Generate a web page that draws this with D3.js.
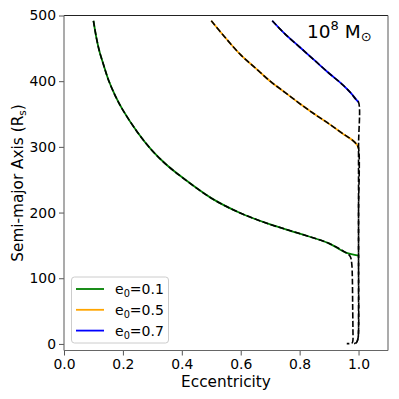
<!DOCTYPE html>
<html>
<head>
<meta charset="utf-8">
<script src="https://cdn.jsdelivr.net/npm/d3@7"></script>
<style>
  body { margin: 0; background: #fff; }
  svg text { font-family: "DejaVu Sans", sans-serif; }
</style>
</head>
<body>
<svg id="chart" width="399" height="399"></svg>
<script>
// e0 = 0.1 (green)
const eccA = [0.1, 0.11, 0.12, 0.135, 0.15, 0.175, 0.2, 0.25, 0.3, 0.35, 0.4, 0.5, 0.6, 0.7, 0.8, 0.9, 0.957, 1.0]
const smaA = [492, 466, 446, 424, 403, 377, 356, 322, 294, 272, 254, 222, 199, 182, 168, 153, 139, 134.6]
// e0 = 0.5 (orange)
const eccB = [0.5, 0.55, 0.6, 0.65, 0.7, 0.75, 0.8, 0.85, 0.9, 0.95, 0.98, 0.995, 1.0]
const smaB = [492, 465, 440, 420, 400, 383, 366, 350, 335, 319, 310, 303, 298]
// e0 = 0.7 (blue)
const eccC = [0.707, 0.75, 0.8, 0.85, 0.9, 0.95, 0.975, 0.99, 1.0]
const smaC = [492, 472, 452, 432, 412, 393, 381.5, 373, 368]

// black dashed tails past the coloured curves
const tailEccA = [0.957, 0.966, 0.973, 0.977, 0.979, 0.98, 0.981, 0.981, 0.979, 0.974, 0.96]
const tailSmaA = [139, 136.5, 132, 122, 100, 60, 20, 6, 2, 0.8, 0.5]
const tailEccB = [1.0, 1.0, 1.0, 1.0, 1.0, 0.998, 0.993, 0.985]
const tailSmaB = [298, 200, 100, 40, 20, 8, 2, 0.5]
const tailEccC = [1.0, 1.0, 1.0, 1.0, 0.998, 0.993, 0.985]
const tailSmaC = [368, 300, 134, 20, 8, 2, 0.5]

const labels = ["0.1", "0.5", "0.7"]
const colors = ["green", "orange", "blue"]
const xTicks = [0, 0.2, 0.4, 0.6, 0.8, 1.0]
const yTicks = [0, 100, 200, 300, 400, 500]

const svg = d3.select("#chart")
const mLeft = 64, mRight = 388, mTop = 15.5, mBottom = 350.5

const x = d3.scaleLinear().domain([0, 1.1]).range([mLeft, mRight])
const y = d3.scaleLinear().domain([-10, 500]).range([mBottom, mTop])

const zip = (es, as) => es.map((e, i) => ({e: e, a: as[i]}))
const series = [zip(eccA, smaA), zip(eccB, smaB), zip(eccC, smaC)]
const tails = [zip(tailEccA, tailSmaA), zip(tailEccB, tailSmaB), zip(tailEccC, tailSmaC)]

const line = d3.line().x(d => x(d.e)).y(d => y(d.a)).curve(d3.curveCatmullRom.alpha(0.5))

// coloured curves
series.forEach((s, i) => {
    svg.append("path").attr("d", line(s))
        .attr("fill", "none").attr("stroke", colors[i]).attr("stroke-width", 1.8)
})

// black dashed model curves on top
series.forEach((s, i) => {
    const full = s.slice(0, s.length - (i === 0 ? 1 : 0)).concat(tails[i].slice(1))
    svg.append("path").attr("d", line(full))
        .attr("fill", "none").attr("stroke", "#000").attr("stroke-width", 1.6)
        .attr("stroke-dasharray", "6,2.4")
})

// axes
const xAxis = d3.axisBottom(x).tickValues(xTicks).tickFormat(d3.format(".1f")).tickSize(5).tickPadding(4)
const yAxis = d3.axisLeft(y).tickValues(yTicks).tickFormat(d3.format("d")).tickSize(5).tickPadding(3)

const gx = svg.append("g").attr("transform", `translate(0,${mBottom})`).call(xAxis)
const gy = svg.append("g").attr("transform", `translate(${mLeft},0)`).call(yAxis)
;[gx, gy].forEach(g => {
    g.select(".domain").remove()
    g.selectAll("line").attr("stroke", "#555")
    g.selectAll("text").attr("font-size", 13.9).attr("fill", "#000")
        .style("font-family", "DejaVu Sans")
})

// spines
svg.append("line").attr("x1", mLeft).attr("x2", mRight).attr("y1", mTop).attr("y2", mTop).attr("stroke", "#222").attr("stroke-width", 1)
svg.append("line").attr("x1", mLeft).attr("x2", mRight).attr("y1", mBottom).attr("y2", mBottom).attr("stroke", "#666").attr("stroke-width", 1.1)
svg.append("line").attr("x1", mLeft).attr("x2", mLeft).attr("y1", mTop).attr("y2", mBottom).attr("stroke", "#666").attr("stroke-width", 1.1)
svg.append("line").attr("x1", mRight).attr("x2", mRight).attr("y1", mTop).attr("y2", mBottom).attr("stroke", "#666").attr("stroke-width", 1.1)

// axis labels
svg.append("text").attr("x", (mLeft + mRight) / 2).attr("y", 387)
    .attr("text-anchor", "middle").attr("font-size", 15.3).text("Eccentricity")

const yl = svg.append("text").attr("transform", `translate(23,${(mTop + mBottom) / 2}) rotate(-90)`)
    .attr("text-anchor", "middle").attr("font-size", 15.3)
yl.append("tspan").text("Semi-major Axis (R")
yl.append("tspan").attr("font-size", 10.5).attr("dy", 3).text("s")
yl.append("tspan").attr("dy", -3).text(")")

// mass annotation
const ann = svg.append("text").attr("x", 307).attr("y", 38).attr("font-size", 18.5)
ann.append("tspan").text("10")
ann.append("tspan").attr("font-size", 13).attr("dy", -8).text("8")
ann.append("tspan").attr("dy", 8).text(" M")
ann.append("tspan").attr("font-size", 13).attr("dy", 3).text("⊙")

// legend
const lg = svg.append("g")
lg.append("rect").attr("x", 71.5).attr("y", 277).attr("width", 97).attr("height", 66)
    .attr("rx", 3).attr("fill", "#fff").attr("fill-opacity", 0.8)
    .attr("stroke", "#ccc").attr("stroke-width", 1)
labels.forEach((l, i) => {
    const ly = 289 + i * 20.8
    lg.append("line").attr("x1", 76).attr("x2", 104).attr("y1", ly).attr("y2", ly)
        .attr("stroke", colors[i]).attr("stroke-width", 1.8)
    const t = lg.append("text").attr("x", 115).attr("y", ly + 5).attr("font-size", 14)
    t.append("tspan").text("e")
    t.append("tspan").attr("font-size", 9.8).attr("dy", 3).text("0")
    t.append("tspan").attr("dy", -3).text("=" + l)
})
</script>
</body>
</html>
